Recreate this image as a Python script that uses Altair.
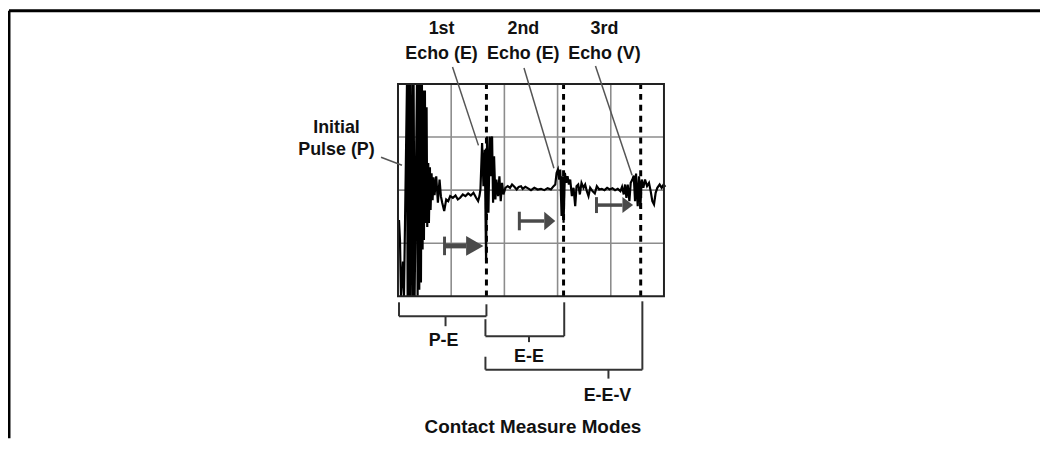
import altair as alt
import pandas as pd

# ---------------- data (time in samples, amplitude in counts; 160 per screen division) -------------
wave_t = [3, 6, 9, 15, 18,
          27, 29, 31, 34, 36, 38,
          43, 45, 47, 50,
          57, 59, 61, 64,
          67, 69, 72, 74, 76, 78,
          81, 83, 86, 88,
          91, 93, 96, 98, 101, 104, 107, 110,
          115, 120, 125, 129, 133, 139, 145, 151, 157, 165, 173, 180, 187, 195,
          203, 211, 219, 227, 235, 241, 245,
          248, 253, 257, 261, 265, 268, 272, 276, 279, 283, 286, 289, 293, 296, 301, 305, 309, 313, 317, 323,
          330, 337, 343, 350, 357, 363, 370, 375, 383, 390, 400, 410, 420, 430, 440, 450, 460, 468,
          473, 477, 481, 485, 488, 492, 495, 498, 502, 506, 510, 514, 518, 523, 528, 533, 537, 542, 547,
          552, 558, 563, 568, 573, 578, 585, 592, 598, 605, 613, 621, 629, 637, 645, 653, 661, 669, 674,
          679, 683, 687, 691, 696, 700, 705, 709, 713, 716, 721, 725, 729, 733, 738, 743, 749, 755, 760,
          765, 770, 775, 780, 787, 793, 799, 804]
wave_a = [-90, -150, -320, -215, -320,
          320, -320, 320, -320, 320, -320,
          320, -320, 320, -320,
          320, -318, 320, -300,
          320, -278, 320, -179, 300, -150,
          300, -99, 250, -111,
          82, -99, 69, -60, 51, -30, 39, -15,
          42, -38, 32, -18, -38, -63, -28, -33, -18, -23, -16, -28, -23, -13,
          -18, -10, -16, -8, -23, -33, -18,
          2, 142, 12, 122, -218, 162, -68, 162, 42, 162, -38, 102, -28, 32, -18, 42, -33, 22, -13, 7,
          12, 7, 17, 10, 2, 10, 12, 4, 10, 6, 0, 7, 2, 4, 0, 6, 2, 12,
          17, 52, 62, 32, 62, -78, 42, -98, 52, 22, 42, 17, 32, -18, 7, -48, 12, 17, -13,
          22, 7, 17, -3, -18, 7, -3, -10, 12, 2, 4, 0, 7, 2, 6, 0, 4, -3, 10,
          -13, 17, -23, 17, -33, 22, 32, 44, -33, 50, -48, 42, -53, 32, 7, 32, 12, 22, -3,
          -33, -43, -8, 7, 17, 7, 17, 10]

screen_x = [0, 800]
screen_y = [-320, 320]
grid_x = [160, 320, 480, 640]
grid_y = [-160, 0, 160]
echo_marks = [266, 498, 730]

arrow_tail = [140, 365, 597]
arrow_tip = [257, 473, 707]
arrow_y = [-168, -93, -45]
arrow_head_len = [52, 33, 32]
arrow_head_half = [30, 28, 24]
arrow_tail_half = [28, 28, 24]
arrow_shaft = [5, 3.5, 3.5]

# leader lines: (x1, y1) label end -> (x2, y2) waveform end
leader_x1 = [164, 379, 594, -51]
leader_y1 = [371, 368, 374, 99]
leader_x2 = [242, 469, 704, 12]
leader_y2 = [135, 66, 45, 75]

# brackets: left, right, left top, right top, bar level, centre tick x, tick end
br_names = ["P-E", "E-E", "E-E-V"]
br_left = [3, 263, 263]
br_right = [266, 500, 735]
br_ltop = [-338, -389, -502]
br_rtop = [-344, -338, -335]
br_bar = [-380, -440, -541]
br_tick = [143, 394, 633]
br_tick_end = [-410, -458, -568]
br_label_x = [137, 394, 630]
br_label_y = [-470, -517, -634]

label_text = ["1st", "Echo (E)", "2nd", "Echo (E)", "3rd", "Echo (V)", "Initial", "Pulse (P)"]
label_x = [131, 131, 377, 377, 621, 621, -185, -185]
label_y = [470, 395, 470, 395, 470, 395, 173, 105]

title_text = "Contact Measure Modes"
title_x, title_y = 406, -733

frame_left, frame_top = -1170, 541
X_DOM = [-1173, 1931]
Y_DOM = [-748, 544]

# ---------------- helpers ----------------
FONT = "Liberation Sans"
xs = alt.Scale(domain=X_DOM, nice=False, zero=False)
ys = alt.Scale(domain=Y_DOM, nice=False, zero=False)


def X(f):
    return alt.X(f"{f}:Q", scale=xs, axis=None)


def Y(f):
    return alt.Y(f"{f}:Q", scale=ys, axis=None)


# frame (top + left)
frame_df = pd.DataFrame({"x": [frame_left, frame_left], "y": [frame_top, frame_top],
                         "x2": [X_DOM[1], frame_left], "y2": [frame_top, Y_DOM[0]]})
frame = alt.Chart(frame_df).mark_rule(color="#000", strokeWidth=3).encode(
    x=X("x"), y=Y("y"), x2="x2", y2="y2")

# grid
gx_df = pd.DataFrame({"x": grid_x, "y": screen_y[0], "y2": screen_y[1]})
gy_df = pd.DataFrame({"y": grid_y, "x": screen_x[0], "x2": screen_x[1]})
grid_v = alt.Chart(gx_df).mark_rule(color="#8c8c8c", strokeWidth=1.6).encode(x=X("x"), y=Y("y"), y2="y2")
grid_h = alt.Chart(gy_df).mark_rule(color="#8c8c8c", strokeWidth=1.6).encode(y=Y("y"), x=X("x"), x2="x2")

box_df = pd.DataFrame({"x": [screen_x[0]], "x2": [screen_x[1]], "y": [screen_y[0]], "y2": [screen_y[1]]})
box = alt.Chart(box_df).mark_rect(fillOpacity=0, stroke="#222", strokeWidth=2).encode(
    x=X("x"), x2="x2", y=Y("y"), y2="y2")

# waveform
wave_df = pd.DataFrame({"t": wave_t, "a": wave_a, "i": range(len(wave_t))})
wave = alt.Chart(wave_df).mark_line(color="#000", strokeWidth=2.2, strokeJoin="miter").encode(
    x=X("t"), y=Y("a"), order="i:Q")

# echo markers
echo_df = pd.DataFrame({"x": echo_marks, "y": screen_y[0], "y2": screen_y[1]})
echo = alt.Chart(echo_df).mark_rule(color="#000", strokeWidth=3, strokeDash=[6, 5]).encode(
    x=X("x"), y=Y("y"), y2="y2")

# arrows
shaft_df = pd.DataFrame({"x": arrow_tail, "x2": [t - h for t, h in zip(arrow_tip, arrow_head_len)],
                         "y": arrow_y, "w": arrow_shaft})
shaft = alt.Chart(shaft_df).mark_rule(color="#4a4a4a").encode(
    x=X("x"), x2="x2", y=Y("y"), strokeWidth=alt.StrokeWidth("w:Q", scale=None, legend=None))
tail_df = pd.DataFrame({"x": arrow_tail, "y": [a - h for a, h in zip(arrow_y, arrow_tail_half)],
                        "y2": [a + h for a, h in zip(arrow_y, arrow_tail_half)]})
tail = alt.Chart(tail_df).mark_rule(color="#4a4a4a", strokeWidth=3).encode(x=X("x"), y=Y("y"), y2="y2")
head_rows = []
for k in range(len(arrow_tip)):
    base = arrow_tip[k] - arrow_head_len[k]
    head_rows.append({"id": k, "x": base, "y": arrow_y[k] + arrow_head_half[k], "y2": arrow_y[k] - arrow_head_half[k]})
    head_rows.append({"id": k, "x": arrow_tip[k], "y": arrow_y[k], "y2": arrow_y[k]})
head = alt.Chart(pd.DataFrame(head_rows)).mark_area(color="#4a4a4a").encode(
    x=X("x"), y=Y("y"), y2="y2", detail="id:N")

# leader lines
lead_df = pd.DataFrame({"x": leader_x1, "y": leader_y1, "x2": leader_x2, "y2": leader_y2})
lead = alt.Chart(lead_df).mark_rule(color="#555", strokeWidth=1.5).encode(x=X("x"), y=Y("y"), x2="x2", y2="y2")

# brackets
segs = []
for k in range(len(br_names)):
    segs.append((br_left[k], br_ltop[k], br_left[k], br_bar[k]))
    segs.append((br_left[k], br_bar[k], br_right[k], br_bar[k]))
    segs.append((br_right[k], br_rtop[k], br_right[k], br_bar[k]))
    segs.append((br_tick[k], br_bar[k], br_tick[k], br_tick_end[k]))
seg_df = pd.DataFrame(segs, columns=["x", "y", "x2", "y2"])
brackets = alt.Chart(seg_df).mark_rule(color="#333", strokeWidth=2).encode(x=X("x"), y=Y("y"), x2="x2", y2="y2")

txt_style = dict(font=FONT, fontWeight="bold", fontSize=18, color="#111", align="center", baseline="alphabetic")
lab_df = pd.DataFrame({"x": label_x, "y": label_y, "t": label_text})
labels = alt.Chart(lab_df).mark_text(**txt_style).encode(x=X("x"), y=Y("y"), text="t:N")
brl_df = pd.DataFrame({"x": br_label_x, "y": br_label_y, "t": br_names})
br_labels = alt.Chart(brl_df).mark_text(**txt_style).encode(x=X("x"), y=Y("y"), text="t:N")
ttl_df = pd.DataFrame({"x": [title_x], "y": [title_y], "t": [title_text]})
title = alt.Chart(ttl_df).mark_text(**{**txt_style, "fontSize": 19}).encode(x=X("x"), y=Y("y"), text="t:N")

chart = alt.layer(frame, grid_v, grid_h, wave, echo, box, shaft, tail, head, lead, brackets,
                  labels, br_labels, title).properties(
    width=1040, height=432, padding=0, autosize=alt.AutoSizeParams(type="none"),
    background="white"
).configure_view(stroke=None)

chart.save("out.html", embed_options={"renderer": "svg", "actions": False})
